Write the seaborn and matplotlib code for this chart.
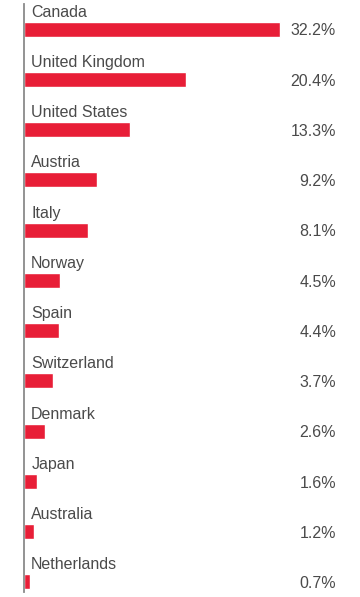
import matplotlib
matplotlib.use("Agg")
import matplotlib.pyplot as plt
import seaborn as sns
import pandas as pd

countries = ["Canada", "United Kingdom", "United States", "Austria", "Italy", "Norway",
             "Spain", "Switzerland", "Denmark", "Japan", "Australia", "Netherlands"]
values = [32.2, 20.4, 13.3, 9.2, 8.1, 4.5, 4.4, 3.7, 2.6, 1.6, 1.2, 0.7]
labels = ["32.2%", "20.4%", "13.3%", "9.2%", "8.1%", "4.5%", "4.4%", "3.7%", "2.6%", "1.6%", "1.2%", "0.7%"]

sns.set_style("white")
plt.rcParams['font.family'] = ['Liberation Sans', 'DejaVu Sans']

df = pd.DataFrame({"country": countries, "value": values})

W, H = 360, 597
fig = plt.figure(figsize=(W / 100, H / 100), dpi=100)
ax = fig.add_axes([24 / W, 1 - 592 / H, (336 - 24) / W, (592 - 4) / H])

sns.barplot(data=df, x="value", y="country", orient="h", color="#E81E37",
            width=0.3, saturation=1, ax=ax)

ax.set_xlim(0, (336 - 24) / 7.95)
ax.set_ylim(11.2, -0.5)
ax.set_xlabel("")
ax.set_ylabel("")
ax.set_xticks([])
ax.set_yticks([])
for s in ["top", "right", "bottom"]:
    ax.spines[s].set_visible(False)
ax.spines["left"].set_color("#8a8a8a")
ax.spines["left"].set_linewidth(1.3)

txt_color = "#4a4a4a"
for i, (c, lab) in enumerate(zip(countries, labels)):
    ax.annotate(c, xy=(0, i - 0.25), xytext=(5.2, 0), textcoords="offset points",
                ha="left", va="baseline", fontsize=11.5, color=txt_color)
    ax.annotate(lab, xy=(1.0, i), xycoords=("axes fraction", "data"),
                xytext=(0, -1.2), textcoords="offset points",
                ha="right", va="center", fontsize=11.5, color=txt_color)

fig.savefig("out.png", dpi=100)
